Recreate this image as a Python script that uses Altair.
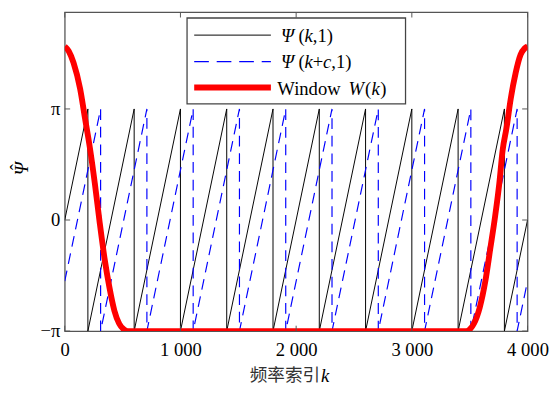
import math
import altair as alt
import pandas as pd

PI = math.pi

# ---- data ----
x_ticks = [0, 1000, 2000, 3000, 4000]
x_tick_labels = ["0", "1 000", "2 000", "3 000", "4 000"]
y_ticks = [-PI, 0.0, PI]

# black sawtooth  Psi(k,1): wrap positions and end values (in units of pi)
black_wraps = [200, 600, 1000, 1400, 1800, 2200, 2600, 3000, 3400, 3800]
black_start = 0.0
black_end = 0.0
# blue dashed sawtooth  Psi(k+c,1)
blue_wraps = [310, 710, 1110, 1510, 1910, 2310, 2710, 3110, 3510, 3910]
blue_start = -0.55
blue_end = -0.55
# red window W(k) (values in units of pi)
red_k = [0, 35, 76, 133, 175, 217, 260, 302, 344, 387, 429, 471, 514, 545,
         3470, 3500, 3536, 3587, 3635, 3678, 3720, 3756, 3784, 3818, 3855,
         3898, 3940, 3975, 4000]
red_v = [1.563, 1.52, 1.416, 1.181, 0.916, 0.652, 0.330, -0.023, -0.346,
         -0.611, -0.816, -0.934, -0.987, -1.0,
         -1.0, -0.985, -0.934, -0.787, -0.552, -0.258, 0.035, 0.330, 0.623,
         0.828, 1.093, 1.328, 1.489, 1.545, 1.563]
Y_MAX = 5.88


def saw_table(wraps, start, end):
    ks, vs = [0], [start * PI]
    for w in wraps:
        ks += [w, w]
        vs += [PI, -PI]
    ks.append(4000)
    vs.append(end * PI)
    return pd.DataFrame({"k": ks, "v": vs, "i": list(range(len(ks)))})


df_black = saw_table(black_wraps, black_start, black_end)
df_blue = saw_table(blue_wraps, blue_start, blue_end)
df_red = pd.DataFrame({"k": red_k, "v": [v * PI for v in red_v],
                       "i": list(range(len(red_k)))})
df_xt = pd.DataFrame({"k": x_ticks})
df_yt = pd.DataFrame({"v": y_ticks})
one = pd.DataFrame({"a": [0]})

W, H = 473, 326
SERIF = "Liberation Serif"
FRAME = "#555555"
BLUE = "#0000ff"

xs = alt.Scale(domain=[0, 4000], nice=False, zero=False)
ys = alt.Scale(domain=[-PI, Y_MAX], nice=False, zero=False)

label_expr_x = ("datum.value == 0 ? '0' : floor(datum.value / 1000) + ' 000'")
label_expr_y = ("datum.value < -1 ? '\u2212\u03c0' : (datum.value > 1 ? '\u03c0' : '0')")

X = alt.X("k:Q", scale=xs, title=None,
          axis=alt.Axis(values=x_ticks, labelExpr=label_expr_x, ticks=False,
                        domain=False, grid=False, labelPadding=10,
                        labelFont=SERIF, labelFontSize=19, labelColor="black",
                        labelFlush=False, labelOverlap=False))
Y = alt.Y("v:Q", scale=ys, title=None,
          axis=alt.Axis(values=y_ticks, labelExpr=label_expr_y, ticks=False,
                        domain=False, grid=False, labelPadding=5,
                        labelFont=SERIF, labelFontSize=19, labelColor="black",
                        labelFlush=False, labelOverlap=False))

black = alt.Chart(df_black).mark_line(color="black", strokeWidth=1, clip=True).encode(
    x=X, y=Y, order="i:Q")
blue = alt.Chart(df_blue).mark_line(color=BLUE, stroke=BLUE, strokeWidth=1.2,
                                    strokeDash=[11, 7], clip=True).encode(
    x=X, y=Y, order="i:Q")
red = alt.Chart(df_red).mark_line(color="#ff0000", strokeWidth=6, clip=True,
                                  interpolate="monotone").encode(
    x=X, y=Y, order="i:Q")

tick_len = 5.5
ticks_bottom = alt.Chart(df_xt).mark_rule(color=FRAME, strokeWidth=1).encode(
    x=X, y=alt.value(H), y2=alt.value(H - tick_len))
ticks_top = alt.Chart(df_xt).mark_rule(color=FRAME, strokeWidth=1).encode(
    x=X, y=alt.value(0), y2=alt.value(tick_len))
ticks_left = alt.Chart(df_yt).mark_rule(color=FRAME, strokeWidth=1).encode(
    y=Y, x=alt.value(0), x2=alt.value(tick_len))
ticks_right = alt.Chart(df_yt).mark_rule(color=FRAME, strokeWidth=1).encode(
    y=Y, x=alt.value(W), x2=alt.value(W - tick_len))

# ---- legend (drawn by hand, plot-pixel coordinates) ----
leg_box = alt.Chart(one).mark_rect(fill="white", stroke="#444444", strokeWidth=1.3).encode(
    x=alt.value(125), x2=alt.value(348.3), y=alt.value(6), y2=alt.value(93.7))
leg_l1 = alt.Chart(one).mark_rule(color="black", strokeWidth=1).encode(
    x=alt.value(132.3), x2=alt.value(210.7), y=alt.value(23.5))
leg_l2 = alt.Chart(one).mark_rule(color=BLUE, stroke=BLUE, strokeWidth=1.3,
                                  strokeDash=[15, 8]).encode(
    x=alt.value(132.3), x2=alt.value(210.7), y=alt.value(50.5))
leg_l3 = alt.Chart(one).mark_rule(color="#ff0000", strokeWidth=6).encode(
    x=alt.value(132.3), x2=alt.value(210.7), y=alt.value(77))


def frag(text, x, y, italic=False, size=19, font=SERIF, align="left",
         color="black", angle=None, baseline="middle"):
    kw = dict(text=text, align=align, baseline=baseline, font=font,
              fontSize=size, color=color)
    if italic:
        kw["fontStyle"] = "italic"
    if angle is not None:
        kw["angle"] = angle
    return alt.Chart(one).mark_text(**kw).encode(x=alt.value(x), y=alt.value(y))


OX = 66
texts = [
    frag("\u03a8", 287 - OX, 24.5, italic=True),
    frag("(", 305 - OX, 24.5),
    frag("k", 311 - OX, 24.5, italic=True),
    frag(",1)", 319.5 - OX, 24.5),
    frag("\u03a8", 287 - OX, 51.5, italic=True),
    frag("(", 305 - OX, 51.5),
    frag("k", 311 - OX, 51.5, italic=True),
    frag("+", 319.5 - OX, 51.5),
    frag("c", 330 - OX, 51.5, italic=True),
    frag(",1)", 338.5 - OX, 51.5),
    frag("Window", 283.3 - OX, 79),
    frag("W", 356 - OX, 79, italic=True),
    frag("(", 373 - OX, 79),
    frag("k", 379.5 - OX, 79, italic=True),
    frag(")", 388.5 - OX, 79),
    # axis titles
    frag("频率索引", 261, 372, size=18, font="Noto Sans CJK SC", align="right",
         color="#333333"),
    frag("k", 262, 372, italic=True),
    frag("\u03a8", -43.5, 160, italic=True, align="center", angle=270),
    frag("\u02c6", -57.5, 158.5, align="center", angle=270, baseline="top"),
]

chart = alt.layer(
    black, blue, red,
    ticks_bottom, ticks_top, ticks_left, ticks_right,
    leg_box, leg_l1, leg_l2, leg_l3, *texts,
).properties(
    width=W, height=H,
    autosize=alt.AutoSizeParams(type="none"),
    padding={"left": 58, "top": 0, "right": 25, "bottom": 56},
    background="white",
).configure_view(stroke=FRAME, strokeWidth=1.3)

chart.save("out.html", embed_options={"renderer": "svg", "actions": False})
